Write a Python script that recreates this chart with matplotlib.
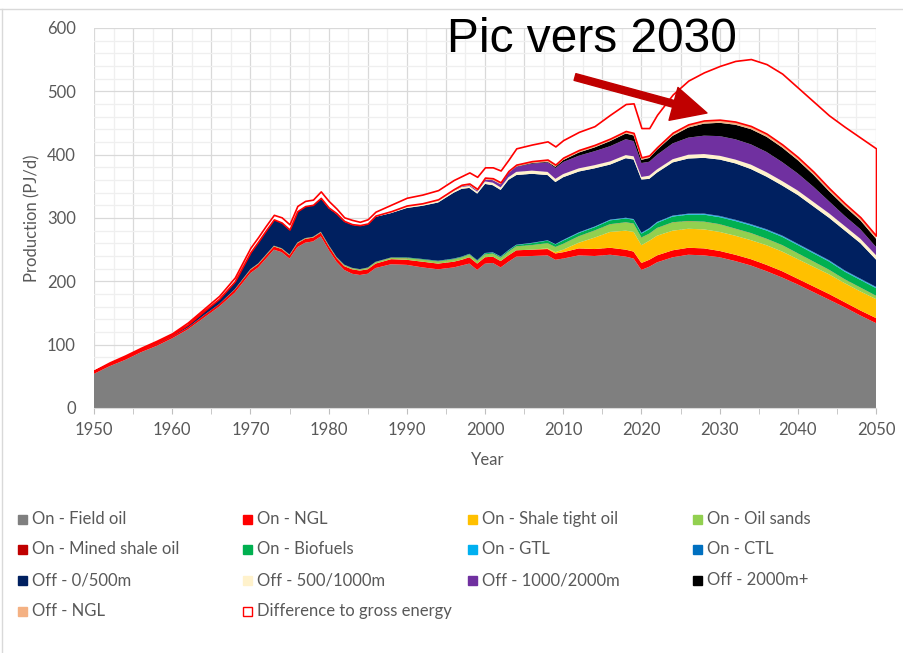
import numpy as np
import matplotlib
matplotlib.use('Agg')
from matplotlib import pyplot as plt
from matplotlib.lines import Line2D
from matplotlib.patches import Rectangle

years = [1950, 1952, 1954, 1956, 1958, 1960, 1962, 1964, 1966, 1968,
         1970, 1971, 1972, 1973, 1974, 1975, 1976, 1977, 1978, 1979, 1980,
         1981, 1982, 1983, 1984, 1985, 1986,
         1988, 1990, 1992, 1994, 1996,
         1997, 1998, 1999, 2000, 2001, 2002, 2003, 2004,
         2006, 2008, 2009, 2010,
         2012, 2014, 2016, 2018,
         2019, 2020, 2021, 2022,
         2024, 2026, 2028, 2030, 2032, 2034, 2036, 2038, 2040, 2042, 2044,
         2046, 2048, 2050]

# production by source, PJ/d
field_oil = [54, 66, 76, 88, 98, 110, 124, 142, 160, 182,
             213, 222, 236, 250, 246, 236, 254, 261, 263, 271, 250,
             231, 218, 212, 210, 212, 221,
             227, 226, 222, 219, 222,
             225, 228, 218, 228, 229, 222, 231, 239,
             240, 241, 234, 236,
             241, 240, 242, 239,
             236, 218, 223, 230,
             238, 242, 241, 238, 232, 225, 216, 206, 195, 183, 171, 159, 146, 134]
on_ngl = [3, 3, 3, 3, 3, 3, 3, 4, 4, 5,
          5, 5, 5, 5, 5, 5, 6, 6, 6, 6, 6,
          6, 6, 7, 7, 7, 7,
          8, 8, 9, 9, 9,
          9, 10, 10, 10, 10, 10, 10, 10,
          10, 10, 10, 10,
          11, 11, 11, 11,
          11, 11, 11, 11,
          11, 11, 11, 10, 10, 10, 10, 10, 9, 9, 9, 8, 8, 8]
shale_tight = [0, 0, 0, 0, 0, 0, 0, 0, 0, 0,
               0, 0, 0, 0, 0, 0, 0, 0, 0, 0, 0,
               0, 0, 0, 0, 0, 0,
               0, 0, 0, 0, 0,
               0, 0, 0, 0, 0, 0, 0, 0,
               0, 1, 2, 4,
               9, 18, 25, 30,
               31, 28, 30, 31,
               31, 30, 30, 30, 30, 30, 31, 31, 31, 31, 31, 30, 30, 30]
oil_sands = [0, 0, 0, 0, 0, 0, 0, 0, 0, 0.5,
             1, 1, 1, 1, 1, 1, 1, 1, 1, 1, 1,
             1, 1.5, 1.5, 1.5, 2, 2,
             2, 2.5, 3, 3, 3.5,
             3.5, 4, 4, 4.5, 4.5, 5, 5.5, 6,
             7, 8, 8, 9,
             10, 11, 12, 13,
             13, 12, 11, 12,
             13, 12, 12, 12, 11, 11, 10, 10, 9, 8, 7, 6, 6, 5]
mined_shale = [0, 0, 0, 0, 0, 0, 0, 0, 0, 0,
               0.3, 0.3, 0.3, 0.3, 0.3, 0.3, 0.3, 0.3, 0.3, 0.3, 0.3,
               0.3, 0.3, 0.3, 0.3, 0.3, 0.3,
               0.3, 0.3, 0.3, 0.3, 0.3,
               0.3, 0.3, 0.3, 0.3, 0.3, 0.3, 0.3, 0.3,
               0.3, 0.3, 0.3, 0.3,
               0.3, 0.3, 0.3, 0.3,
               0.3, 0.3, 0.3, 0.3,
               0.3, 0.3, 0.3, 0.3, 0.3, 0.3, 0.3, 0.3, 0.3, 0.3, 0.3, 0.3, 0.3, 0.3]
biofuels = [0, 0, 0, 0, 0, 0, 0, 0, 0, 0,
            0, 0, 0, 0, 0, 0, 0, 0, 0, 0, 0.3,
            0.3, 0.5, 0.5, 0.5, 0.5, 0.5,
            0.5, 1, 1, 1, 1,
            1, 1, 1, 1.5, 1.5, 1.5, 2, 2,
            3, 4, 4, 5,
            5, 5, 6, 6,
            6, 6, 7, 8,
            9, 10, 11, 11, 12, 12, 13, 13, 13, 13, 13, 12, 12, 12]
gtl = [0, 0, 0, 0, 0, 0, 0, 0, 0, 0,
       0, 0, 0, 0, 0, 0, 0, 0, 0, 0, 0,
       0, 0, 0, 0, 0, 0,
       0, 0, 0, 0.2, 0.2,
       0.2, 0.2, 0.2, 0.5, 0.5, 0.5, 0.5, 0.5,
       0.5, 0.5, 0.5, 0.8,
       0.8, 0.8, 0.8, 0.8,
       0.8, 1, 1, 1,
       1, 1, 1, 1, 1, 1, 1, 1, 1, 1, 1, 1, 1, 1]
ctl = [0, 0, 0, 0, 0, 0, 0, 0, 0, 0,
       0, 0, 0, 0, 0, 0, 0, 0, 0, 0, 0,
       0, 0, 0, 0, 0, 0,
       0, 0, 0, 0, 0,
       0, 0, 0, 0, 0, 0, 0, 0,
       0, 0, 0, 0.3,
       0.3, 0.3, 0.3, 0.3,
       0.3, 0.5, 0.5, 0.5,
       0.5, 0.6, 0.7, 1, 1, 1, 1, 1, 1, 1, 1, 1, 1, 1]
off_0_500 = [0.5, 1, 1, 1, 2, 2, 4, 6, 8, 12,
             26, 34, 38, 41, 40, 39, 49, 50, 50, 53, 58,
             68, 68, 68, 68, 68, 71,
             70, 78, 84, 92, 104,
             107, 104, 105, 109, 106, 105, 111, 110,
             109, 103, 98, 99,
             96, 92, 87, 94,
             94, 84, 78, 78,
             84, 87, 88, 89, 89, 87, 83, 79, 77, 72, 67, 63, 56, 43]
off_500_1000 = [0, 0, 0, 0, 0, 0, 0, 0, 0, 0,
                0, 0, 0, 0, 0, 0, 0, 0, 0, 0, 0,
                0, 0, 0, 0.5, 0.5, 1,
                1.5, 2, 2, 3, 3,
                3, 3, 3, 4, 4, 4, 4, 5,
                5, 5, 5, 5,
                5, 5, 5, 5,
                5, 4, 5, 5,
                5, 6, 6, 6, 6, 7, 7, 7, 7, 7, 7, 7, 7, 7]
off_1000_2000 = [0, 0, 0, 0, 0, 0, 0, 0, 0, 0,
                 0, 0, 0, 0, 0, 0, 0, 0, 0, 0, 0,
                 0, 0, 0, 0, 0, 0,
                 0, 0, 0, 0, 0.5,
                 1, 1.5, 2, 3, 4, 5, 7, 8,
                 11, 15, 17, 19,
                 20, 22, 24, 25,
                 24, 22, 22, 23,
                 25, 27, 29, 31, 32, 32, 32, 30, 27, 24, 19, 16, 15, 13]
off_2000_plus = [0, 0, 0, 0, 0, 0, 0, 0, 0, 0,
                 0, 0, 0, 0, 0, 0, 0, 0, 0, 0, 0,
                 0, 0, 0, 0, 0, 0,
                 0, 0, 0, 0, 0,
                 0, 0, 0, 0, 0, 0, 0, 0.5,
                 1, 1, 2, 3,
                 5, 6, 8, 9,
                 9, 5, 6, 8,
                 12, 16, 19, 21, 23, 24, 24, 23, 21, 19, 16, 15, 14, 13]
off_ngl = [0.5, 0.5, 0.5, 0.5, 0.5, 0.5, 0.5, 0.5, 0.5, 0.5,
           0.5, 0.5, 0.5, 0.5, 0.5, 0.5, 0.5, 0.5, 0.5, 0.5, 1,
           1, 1, 1, 1, 1, 1,
           1.5, 2, 2, 2, 2,
           2.5, 2.5, 2.5, 3, 3, 3, 3, 3,
           3, 3.5, 3.5, 4,
           4, 4, 4, 4,
           4, 4, 4, 4,
           5, 5, 5, 5, 5, 5, 5, 5, 5, 5, 5, 5, 5, 5]
# gross energy total (upper red line)
gross_total = [59, 72, 83, 95, 106, 118, 135, 156, 177, 206,
               253, 270, 288, 305, 301, 290, 319, 327, 329, 342, 327,
               315, 301, 297, 294, 298, 310,
               321, 332, 337, 344, 360,
               366, 372, 365, 380, 380, 375, 392, 410,
               416, 421, 413, 423,
               436, 445, 463, 480,
               481, 442, 442, 463,
               495, 517, 530, 540, 548, 551, 543, 528, 506, 484, 462, 444, 427, 410]

series = [field_oil, on_ngl, shale_tight, oil_sands, mined_shale, biofuels,
          gtl, ctl, off_0_500, off_500_1000, off_1000_2000, off_2000_plus, off_ngl]
labels = ['On - Field oil', 'On - NGL', 'On - Shale tight oil', 'On - Oil sands',
          'On - Mined shale oil', 'On - Biofuels', 'On - GTL', 'On - CTL',
          'Off - 0/500m', 'Off - 500/1000m', 'Off - 1000/2000m', 'Off - 2000m+',
          'Off - NGL']
colors = ['#7f7f7f', '#ff0000', '#ffc000', '#92d050', '#c00000', '#00b050',
          '#00b0f0', '#0070c0', '#002060', '#fff2cc', '#7030a0', '#000000',
          '#f4b183']

net_total = np.sum(np.array(series, dtype=float), axis=0)

plt.rcParams['font.family'] = ['Lato', 'DejaVu Sans']
grey_text = '#595959'

fig = plt.figure(figsize=(9.04, 6.53), dpi=100)
ax = fig.add_axes([94 / 904, 1 - 408 / 653, 782 / 904, 380 / 653])

# gridlines (major every 5 years / 100, lighter in between)
for x in np.arange(1950, 2050.1, 2.5):
    ax.axvline(x, color='#d9d9d9' if x % 5 == 0 else '#efefef', lw=0.9, zorder=0)
for y in range(20, 601, 20):
    ax.axhline(y, color='#d9d9d9' if y % 100 == 0 else '#efefef', lw=0.9, zorder=0)

ax.stackplot(years, *series, colors=colors, linewidth=0, zorder=2)
ax.fill_between(years, net_total, gross_total, facecolor='white',
                edgecolor='#ff0000', linewidth=1.2, zorder=3)

ax.set_xlim(1950, 2050)
ax.set_ylim(0, 600)
ax.set_xticks(range(1950, 2051, 10))
ax.set_xticks(range(1950, 2051, 5), minor=True)
ax.set_yticks(range(0, 601, 100))
ax.tick_params(axis='y', length=0, pad=13, labelsize=12, labelcolor=grey_text)
ax.tick_params(axis='x', which='both', length=4, color='#bfbfbf',
               pad=6, labelsize=12, labelcolor=grey_text)
for side in ['top', 'right', 'left']:
    ax.spines[side].set_visible(False)
ax.spines['bottom'].set_color('#d9d9d9')
ax.spines['bottom'].set_zorder(4)

fig.text(32 / 904, 1 - 218 / 653, 'Production (PJ/d)', rotation=90,
         ha='center', va='center', fontsize=12, color=grey_text)
fig.text(488 / 904, 1 - 460 / 653, 'Year', ha='center', va='center',
         fontsize=12, color=grey_text)

# annotation
fig.text(447 / 904, 1 - 40 / 653, 'Pic vers 2030', ha='left', va='center',
         fontsize=34.5, family='Liberation Sans', color='black')
ax.annotate('', xy=(707, 653 - 113), xytext=(575, 653 - 77),
            xycoords='figure pixels', textcoords='figure pixels',
            arrowprops=dict(arrowstyle='simple,head_width=2.45,head_length=2.5,tail_width=0.5',
                            mutation_scale=10, color='#c00000', shrinkA=0, shrinkB=0),
            zorder=6)

# legend, laid out row by row like the original
leg_labels = labels + ['Difference to gross energy']
leg_faces = colors + ['white']
leg_edges = colors + ['#ff0000']
col_x = [18, 243, 468, 693]
row_y = [519, 549, 580, 611]
for i, lab in enumerate(leg_labels):
    cx = col_x[i % 4]
    cy = row_y[i // 4]
    fig.add_artist(Rectangle((cx / 904, 1 - (cy + 4.5) / 653), 9 / 904, 9 / 653,
                             transform=fig.transFigure, facecolor=leg_faces[i],
                             edgecolor=leg_edges[i], linewidth=1.0))
    fig.text((cx + 14) / 904, 1 - cy / 653, lab, ha='left', va='center',
             fontsize=12, color=grey_text)

# chart area border
fig.add_artist(Line2D([0, 1], [1 - 9 / 653, 1 - 9 / 653], transform=fig.transFigure,
                      color='#d9d9d9', lw=1))
fig.add_artist(Line2D([2 / 904, 2 / 904], [0, 1 - 9 / 653], transform=fig.transFigure,
                      color='#d9d9d9', lw=1))

fig.savefig('out.png', dpi=100)
